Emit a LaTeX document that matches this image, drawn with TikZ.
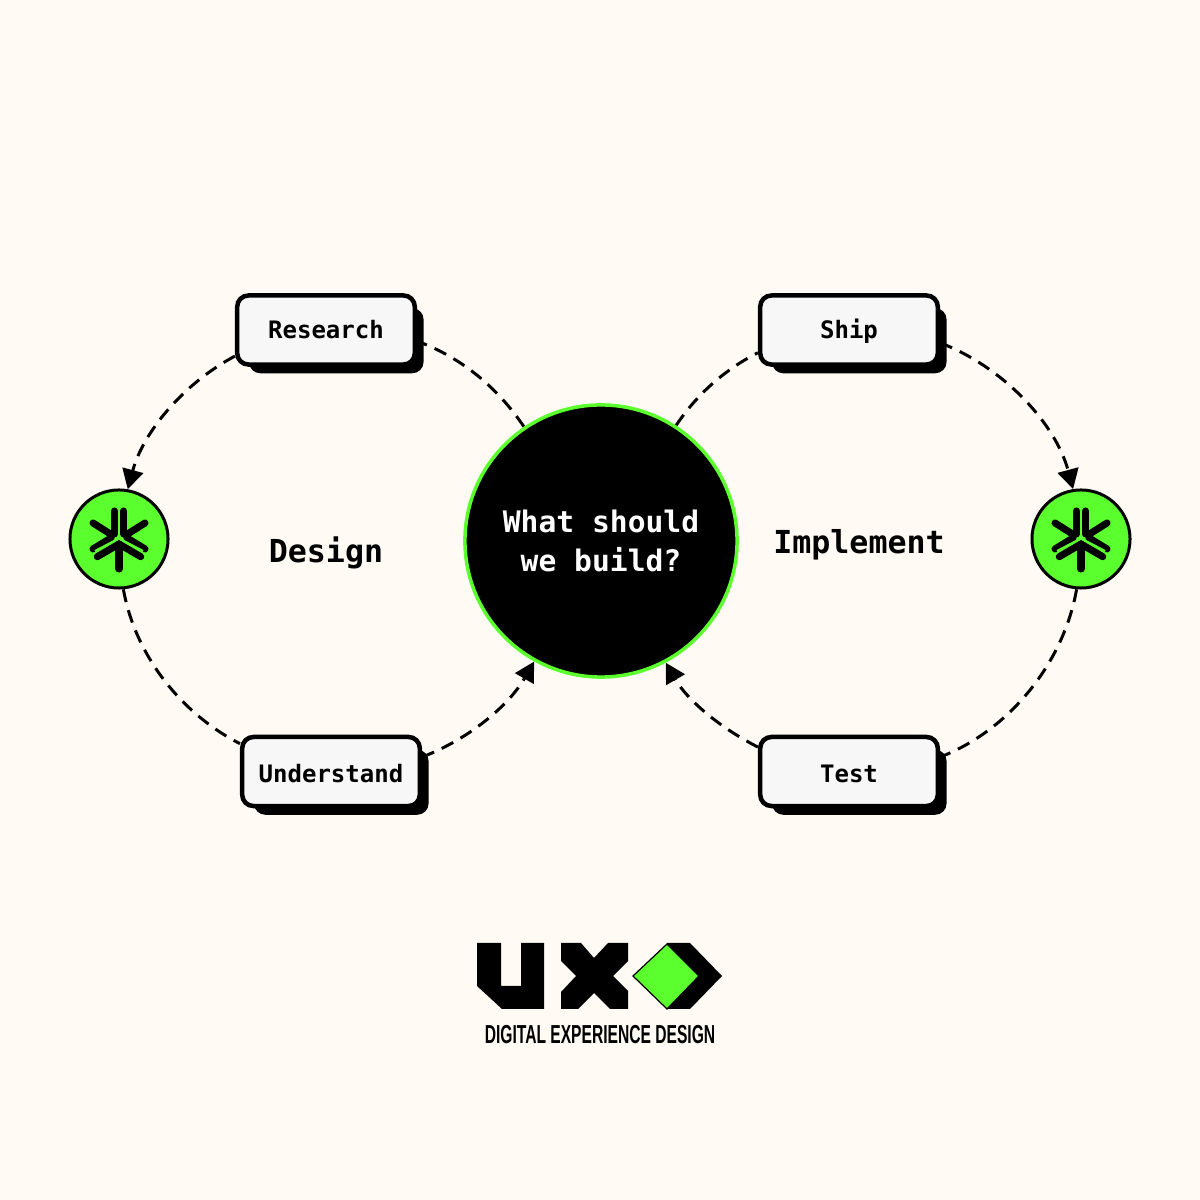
\documentclass[tikz,border=0pt]{standalone}
\usepackage{fontspec}
\usetikzlibrary{arrows.meta,backgrounds,calc}
\newfontfamily\diagramfont{DejaVu Sans Mono}
\newfontfamily\logofont[FakeStretch=0.6]{Liberation Sans}
\definecolor{paper}{HTML}{FFFBF4}
\definecolor{limegreen}{HTML}{5CFF2E}
\definecolor{boxgrey}{HTML}{F7F7F7}
\tikzset{
    stagebox/.style={draw=black, fill=boxgrey, line width=1.28pt, rounded corners=3.2pt,
        minimum width=1.775cm, minimum height=0.69cm, inner sep=0pt, text height=5pt, text depth=0pt,
        font=\diagramfont\bfseries\fontsize{6.83}{8}\selectfont},
    lowstagebox/.style={stagebox, text height=6.1pt},
    hub/.style={circle, draw=black, fill=limegreen, line width=0.85pt, minimum size=0.98cm, inner sep=0pt},
    phase/.style={font=\diagramfont\bfseries\fontsize{9}{11}\selectfont, inner sep=0pt},
    flow/.style={draw=black, line width=0.85pt, dash pattern=on 3.7pt off 2.4pt, looseness=0.88},
    flowhead/.style={flow, -{Triangle[length=5.6pt,width=6pt]}},
    spoke/.style={line width=2pt, line cap=round, draw=black}
}
\begin{document}
\begin{tikzpicture}[x=0.01cm, y=0.01cm]

    \useasboundingbox (0,0) rectangle (1200,1200);

    \node[circle, draw=limegreen, fill=black, line width=1pt, minimum size=2.72cm, inner sep=0pt, align=center,
        text=white, font=\diagramfont\bfseries\fontsize{8.43}{11.1}\selectfont] (question) at (601,659) {What should\\we build?};

    \node[stagebox] (research) at (326,870) {Research};
    \node[lowstagebox] (understand) at (331,428.5) {Understand};
    \node[stagebox] (ship) at (849,870) {Ship};
    \node[lowstagebox] (test) at (849,428.5) {Test};

    \node[hub] (hubleft) at (119,661) {};
    \node[hub] (hubright) at (1081,661) {};

    \node[phase] (design) at (326,647) {Design};
    \node[phase] (implement) at (859,655) {Implement};

    \foreach \h in {hubleft,hubright} {
        \begin{scope}[shift={(\h)}]
            \draw[spoke] (-4.5,28) -- (-4.5,5);
            \draw[spoke] (4.5,28) -- (4.5,5);
            \draw[spoke] (-26,16) -- (-7,4);
            \draw[spoke] (26,16) -- (7,4);
            \draw[spoke] (-26,-10) -- (-8,1);
            \draw[spoke] (26,-10) -- (8,1);
            \draw[spoke] (-21.7,-17.7) -- (0,-5) -- (21.7,-17.7);
            \draw[spoke] (0,-5) -- (0,-30);
            \draw[limegreen, line width=0.6pt] (-24,-12) -- (0,0.5) -- (24,-12);
        \end{scope}
    }

    \begin{scope}[on background layer]
        \fill[paper] (0,0) rectangle (1200,1200);

        \draw[flow] (question.124) to[out=124, in=-20] (research.-7);
        \draw[flowhead] (research.196) to[out=208, in=75] (hubleft.80);
        \draw[flow] (hubleft.-85) to[out=280, in=153] (understand.163);
        \draw[flowhead] (understand.9) to[out=21, in=240] (question.241);

        \draw[flow] (question.57) to[out=56, in=207] (ship.194);
        \draw[flowhead] (ship.-8) to[out=-21, in=105] (hubright.99);
        \draw[flow] (hubright.265) to[out=-100, in=21] (test.9);
        \draw[flowhead] (test.165) to[out=153, in=-60] (question.-62);

        \foreach \b in {research,understand,ship,test} {
            \fill[black, rounded corners=3.2pt] ($(\b.south west)+(14,-6.5)$) rectangle ($(\b.north east)+(6.5,-15)$);
        }
    \end{scope}

    \fill[black] (477,257) -- (501,257) -- (501,214) -- (521,214) -- (521,257) -- (544,257)
        -- (544,191) -- (502,191) -- (477,214) -- cycle;
    \fill[black] (561,257) -- (581,257) -- (594,242) -- (608,257) -- (628,257) -- (628,239) -- (613,224)
        -- (628,209) -- (628,191) -- (610,191) -- (594,207) -- (578,191) -- (561,191) -- (561,208)
        -- (576,224) -- (561,239) -- cycle;
    \fill[black] (667,257) -- (690,257) -- (722,224) -- (690,191) -- (667,191) -- cycle;
    \draw[black, fill=limegreen, line width=0.35pt] (667,256) -- (699,224) -- (667,191) -- (633,224) -- cycle;

    \node[inner sep=0pt, font=\logofont\bfseries\fontsize{7.4}{9}\selectfont] (tagline) at (600,165) {DIGITAL EXPERIENCE DESIGN};

\end{tikzpicture}
\end{document}
